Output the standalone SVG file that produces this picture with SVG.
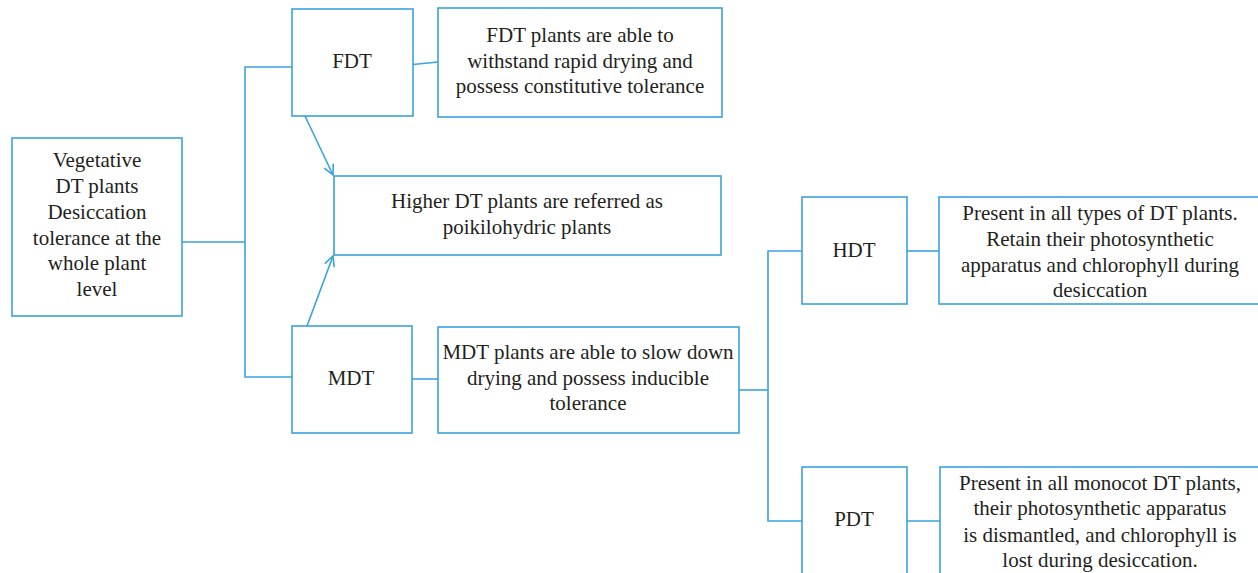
<svg xmlns="http://www.w3.org/2000/svg" width="1258" height="573" viewBox="0 0 1258 573">
<style>
.box{fill:#fff;stroke:#3ba2dd;stroke-width:1.6}
.ln{fill:none;stroke:#3ba2dd;stroke-width:1.6}
text{font-family:"Liberation Serif","Times New Roman",serif;font-size:21px;fill:#231f20;text-anchor:middle}
</style>
<defs>
<marker id="arr" viewBox="0 0 12 12" refX="11" refY="6" markerWidth="12" markerHeight="12" markerUnits="userSpaceOnUse" orient="auto">
<path d="M1,1 L11,6 L1,11" fill="none" stroke="#3ba2dd" stroke-width="1.6"/>
</marker>
</defs>
<g id="connectors">
<polyline class="ln" points="182,242 245,242"/>
<polyline class="ln" points="292,67 245,67 245,377 292,377"/>
<line class="ln" x1="413" y1="64.5" x2="438" y2="62"/>
<line class="ln" x1="412" y1="379" x2="438" y2="379"/>
<line class="ln" x1="305" y1="116" x2="333" y2="175" marker-end="url(#arr)"/>
<line class="ln" x1="307" y1="326" x2="333" y2="256" marker-end="url(#arr)"/>
<polyline class="ln" points="739,390 768,390"/>
<polyline class="ln" points="802,251 768,251 768,521 802,521"/>
<line class="ln" x1="907" y1="251" x2="939" y2="251"/>
<line class="ln" x1="907" y1="521" x2="940" y2="521"/>
</g>
<g id="root">
<rect class="box" x="12" y="138" width="170" height="178"/>
<text x="97" y="167">Vegetative</text>
<text x="97" y="193">DT plants</text>
<text x="97" y="219">Desiccation</text>
<text x="97" y="245">tolerance at the</text>
<text x="97" y="270">whole plant</text>
<text x="97" y="296">level</text>
</g>
<g id="fdt">
<rect class="box" x="292" y="9" width="121" height="107"/>
<text x="352" y="68">FDT</text>
</g>
<g id="fdt-desc">
<rect class="box" x="438" y="8" width="284" height="109"/>
<text x="580" y="42">FDT plants are able to</text>
<text x="580" y="68">withstand rapid drying and</text>
<text x="580" y="93">possess constitutive tolerance</text>
</g>
<g id="higher">
<rect class="box" x="334" y="176" width="387" height="79"/>
<text x="527" y="208">Higher DT plants are referred as</text>
<text x="527" y="234">poikilohydric plants</text>
</g>
<g id="mdt">
<rect class="box" x="292" y="326" width="120" height="107"/>
<text x="351" y="385">MDT</text>
</g>
<g id="mdt-desc">
<rect class="box" x="438" y="327" width="301" height="106"/>
<text x="588" y="359">MDT plants are able to slow down</text>
<text x="588" y="385">drying and possess inducible</text>
<text x="588" y="410">tolerance</text>
</g>
<g id="hdt">
<rect class="box" x="802" y="197" width="105" height="107"/>
<text x="854" y="257">HDT</text>
</g>
<g id="hdt-desc">
<rect class="box" x="939" y="197" width="330" height="107"/>
<text x="1100" y="220">Present in all types of DT plants.</text>
<text x="1100" y="246">Retain their photosynthetic</text>
<text x="1100" y="272">apparatus and chlorophyll during</text>
<text x="1100" y="297">desiccation</text>
</g>
<g id="pdt">
<rect class="box" x="802" y="467" width="105" height="120"/>
<text x="854" y="526">PDT</text>
</g>
<g id="pdt-desc">
<rect class="box" x="940" y="467" width="330" height="120"/>
<text x="1100" y="490">Present in all monocot DT plants,</text>
<text x="1100" y="515">their photosynthetic apparatus</text>
<text x="1100" y="542">is dismantled, and chlorophyll is</text>
<text x="1100" y="567">lost during desiccation.</text>
</g>
</svg>
